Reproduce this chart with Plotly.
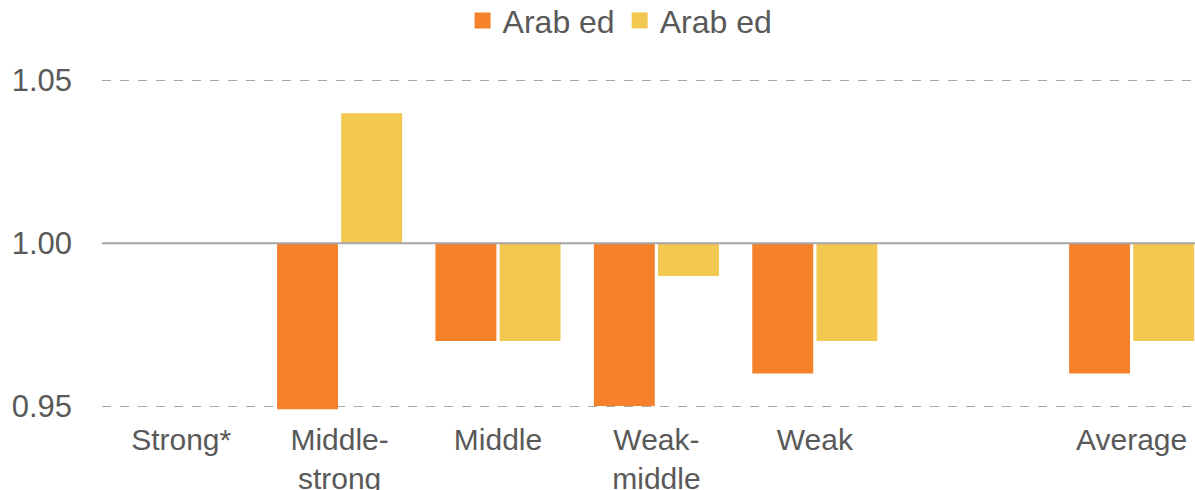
import plotly.graph_objects as go

categories = ["Strong*", "Middle-<br>strong", "Middle", "Weak-<br>middle", "Weak", " ", "Average"]
series_a = [None, 0.949, 0.97, 0.95, 0.96, None, 0.96]
series_b = [None, 1.04, 0.97, 0.99, 0.97, None, 0.97]
series_names = ["Arab ed", "Arab ed"]
base_value = 1.0
tick_vals = [0.95, 1.00, 1.05]

orange = "#F5822A"
yellow = "#F2C851"
text_col = "#595959"


def delta(vals):
    return [None if v is None else v - base_value for v in vals]


fig = go.Figure()
for vals, name, col in [(series_a, series_names[0], orange), (series_b, series_names[1], yellow)]:
    fig.add_trace(go.Bar(x=categories, y=delta(vals), base=base_value, name=name,
                         marker_color=col, marker_line_width=0, showlegend=False))

# legend entries with larger square keys
for name, col in [(series_names[0], orange), (series_names[1], yellow)]:
    fig.add_trace(go.Scatter(x=[None], y=[None], mode="markers", name=name,
                             marker=dict(symbol="square", size=17, color=col)))

# solid line at the base value
fig.add_shape(type="line", xref="paper", x0=0, x1=1, y0=base_value, y1=base_value,
              line=dict(color="#A6A6A6", width=2), layer="above")

fig.update_layout(
    width=1195, height=490,
    margin=dict(l=102, r=0, t=79, b=79, autoexpand=False),
    plot_bgcolor="white", paper_bgcolor="white",
    font=dict(family="Liberation Sans, Arial, sans-serif", size=30, color=text_col),
    barmode="group", bargap=0.19, bargroupgap=0.05,
    showlegend=True,
    legend=dict(orientation="h", xref="paper", x=0.474, xanchor="center",
                yref="container", y=0.958, yanchor="middle",
                font=dict(size=32, color=text_col), itemwidth=30),
    xaxis=dict(range=[-0.5, 6.4], showgrid=False, showline=False, ticks="",
               tickfont=dict(size=30), ticklabelstandoff=8, automargin=False),
    yaxis=dict(range=[0.9485, 1.0505], tickvals=tick_vals, tickformat=".2f",
               showgrid=True, gridcolor="#A6A6A6", griddash="dash", gridwidth=1,
               zeroline=False, showline=False, ticks="",
               tickfont=dict(size=31), ticklabelstandoff=29, automargin=False),
)

fig.write_html("out.html", config={"displayModeBar": False},
               post_script="document.body.style.margin='0';")
